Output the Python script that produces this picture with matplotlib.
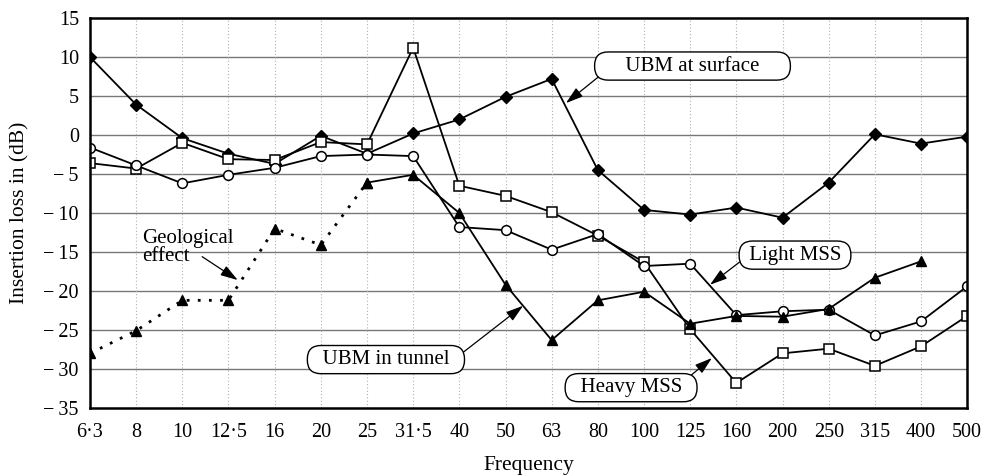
import matplotlib
matplotlib.use('Agg')
import matplotlib.pyplot as plt
import numpy as np

plt.rcParams['font.family'] = ['Liberation Serif', 'DejaVu Serif']

freq_labels = ['6·3', '8', '10', '12·5', '16', '20', '25', '31·5', '40', '50',
               '63', '80', '100', '125', '160', '200', '250', '315', '400', '500']

ubm_surface = [10, 3.9, -0.4, -2.4, -3.7, -0.1, -2.4, 0.2, 2.0, 4.9,
               7.2, -4.5, -9.6, -10.2, -9.3, -10.6, -6.1, 0.1, -1.1, -0.2]
heavy_mss = [-3.6, -4.3, -1.0, -3.1, -3.2, -0.9, -1.2, 11.2, -6.5, -7.8,
             -9.9, -12.9, -16.3, -24.9, -31.8, -28.0, -27.4, -29.6, -27.1, -23.2]
light_mss = [-1.6, -3.9, -6.2, -5.1, -4.2, -2.7, -2.5, -2.7, -11.8, -12.2,
             -14.7, -12.7, -16.8, -16.5, -23.1, -22.6, -22.4, -25.7, -23.9, -19.4]
# UBM in tunnel; first part (6.3 to 25 Hz) is the dotted "geological effect"
ubm_tunnel = [-28.0, -25.1, -21.2, -21.2, -12.0, -14.1, -6.1, -5.1, -10.0, -19.2,
              -26.3, -21.2, -20.1, -24.2, -23.2, -23.3, -22.3, -18.3, -16.2]
geo_end = 6

x = np.arange(len(freq_labels))

fig = plt.figure(figsize=(9.92, 4.76), dpi=100)
ax = fig.add_axes([0.0907, 0.143, 0.8843, 0.819])

# grid
for v in range(-30, 15, 5):
    ax.axhline(v, color='#777777', lw=1.0, zorder=0)
for xi in x[1:-1]:
    ax.axvline(xi, color='#b0b0b0', lw=0.8, ls=(0, (1, 2)), zorder=0)

lw = 1.3
ax.plot(x, ubm_surface, '-', color='black', lw=lw, marker='D', ms=6.5,
        mfc='black', mec='black', zorder=3)
ax.plot(x, heavy_mss, '-', color='black', lw=lw, marker='s', ms=7,
        mfc='white', mec='black', mew=1.1, zorder=3)
ax.plot(x, light_mss, '-', color='black', lw=lw, marker='o', ms=7,
        mfc='white', mec='black', mew=1.1, zorder=3)
xt = x[:len(ubm_tunnel)]
ax.plot(xt[:geo_end + 1], ubm_tunnel[:geo_end + 1], color='black', lw=2.0,
        ls=(0, (1, 3)), marker='^', ms=7.5, mfc='black', mec='black', zorder=3)
ax.plot(xt[geo_end:], ubm_tunnel[geo_end:], '-', color='black', lw=lw,
        marker='^', ms=7.5, mfc='black', mec='black', zorder=3)

ax.set_xlim(0, len(freq_labels) - 1)
ax.set_ylim(-35, 15)
ax.set_xticks(x)
ax.set_xticklabels(freq_labels)
yt = np.arange(-35, 20, 5)
ax.set_yticks(yt)
ax.set_yticklabels([str(v) if v >= 0 else '\u2212\u2009' + str(-v) for v in yt])
ax.tick_params(length=0, labelsize=14.5)
ax.tick_params(axis='x', pad=11)
ax.tick_params(axis='y', pad=8)
for s in ax.spines.values():
    s.set_linewidth(1.8)
    s.set_zorder(5)

ax.set_xlabel('Frequency', fontsize=15.5, labelpad=10)
ax.set_ylabel('Insertion loss in (dB)', fontsize=15.5, labelpad=10)

box = dict(boxstyle='round,pad=0.22,rounding_size=0.65', fc='white', ec='black', lw=1.0)
arw = dict(arrowstyle='-|>,head_length=0.7,head_width=0.22', color='black', lw=0.9,
           mutation_scale=15, shrinkA=0, shrinkB=0)

ax.annotate('     UBM at surface     ', xy=(10.31, 4.1), xytext=(13.05, 8.85), fontsize=15,
            ha='center', va='center', bbox=box, zorder=6,
            arrowprops=dict(arw, relpos=(0.02, 0.12)))
ax.annotate(' Light MSS ', xy=(13.43, -19.2), xytext=(15.27, -15.4), fontsize=15,
            ha='center', va='center', bbox=box, zorder=6,
            arrowprops=dict(arw, relpos=(0.0, 0.3)))
ax.annotate('  Heavy MSS  ', xy=(13.47, -28.6), xytext=(11.72, -32.4), fontsize=15,
            ha='center', va='center', bbox=box, zorder=6,
            arrowprops=dict(arw, relpos=(0.96, 1.0)))
ax.annotate('  UBM in tunnel  ', xy=(9.38, -21.9), xytext=(6.41, -28.8), fontsize=15,
            ha='center', va='center', bbox=box, zorder=6,
            arrowprops=dict(arw, relpos=(1.0, 0.75)))
ax.text(1.13, -14.4, 'Geological\neffect', fontsize=15, ha='left', va='center',
        linespacing=0.95, zorder=6)
ax.annotate('', xy=(3.2, -18.6), xytext=(2.43, -15.6), arrowprops=arw, zorder=6)

fig.savefig('out.png', dpi=100)
